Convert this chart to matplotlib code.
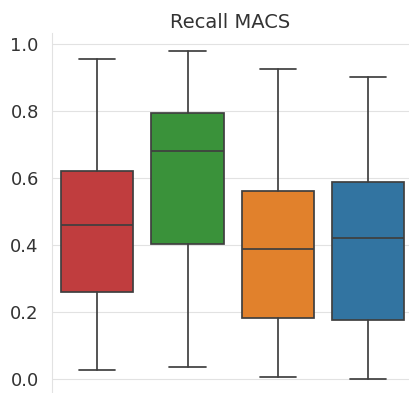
import numpy as np
import matplotlib
matplotlib.use("Agg")
import matplotlib.pyplot as plt
import seaborn as sns

# Résumé des boîtes (min, Q1, médiane, Q3, max) par méthode
methodes = ["A", "B", "C", "D"]
bas = [0.025, 0.036, 0.004, 0.0]
q1 = [0.26, 0.403, 0.181, 0.175]
mediane = [0.46, 0.681, 0.387, 0.421]
q3 = [0.62, 0.792, 0.56, 0.586]
haut = [0.955, 0.977, 0.926, 0.90]
couleurs = ["#C03D3E", "#3A923A", "#E1812C", "#3274A1"]

sns.set_style("whitegrid", {"grid.color": "#e2e2e2", "axes.edgecolor": "#e2e2e2"})

fig = plt.figure(figsize=(4.09, 3.93), dpi=100)
ax = fig.add_axes([52 / 409, -0.005, 357 / 409, 0.92])

stats = []
for i in range(len(methodes)):
    stats.append(dict(label=methodes[i], whislo=bas[i], q1=q1[i], med=mediane[i],
                      q3=q3[i], whishi=haut[i], fliers=[]))

gris = "#3f3f3f"
bp = ax.bxp(stats, positions=np.arange(len(methodes)), widths=0.8,
            patch_artist=True, showfliers=False,
            boxprops=dict(edgecolor=gris, linewidth=1.25),
            whiskerprops=dict(color=gris, linewidth=1.25),
            capprops=dict(color=gris, linewidth=1.25),
            medianprops=dict(color=gris, linewidth=1.25))
for boite, c in zip(bp["boxes"], couleurs):
    boite.set_facecolor(c)

ax.set_xlim(-0.5, 3.45)
ax.set_ylim(-0.049, 1.031)
ax.set_yticks(np.arange(0, 1.01, 0.2))
ax.set_xticks([])
ax.tick_params(axis="y", labelsize=13, colors="#333333", pad=6)
ax.set_title("Recall MACS", fontsize=14, color="#333333", pad=4)
ax.xaxis.grid(False)
sns.despine(ax=ax, bottom=True)

plt.savefig("out.png", dpi=100)
